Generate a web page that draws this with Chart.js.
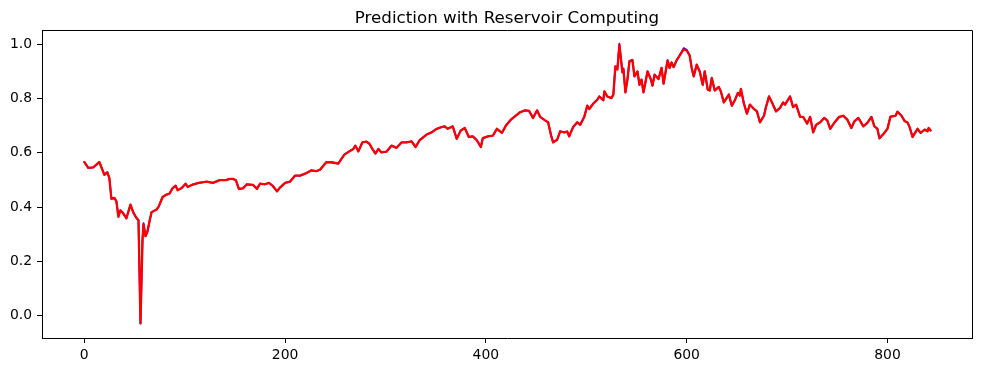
<!DOCTYPE html>
<html>
<head>
<meta charset="utf-8">
<script src="https://cdn.jsdelivr.net/npm/chart.js@4.4.1/dist/chart.umd.min.js"></script>
<style>
html,body{margin:0;padding:0;background:#fff;}
#wrap{width:981px;height:372px;}
</style>
</head>
<body>
<div id="wrap"><canvas id="c" width="981" height="372"></canvas></div>
<script>
const titleText = "Prediction with Reservoir Computing";
const xTicks = [0, 200, 400, 600, 800];
const yTicks = [0.0, 0.2, 0.4, 0.6, 0.8, 1.0];

const steps = [0,4,9,15,20,23,25,27,30,32,34,36,38,42,46,49,52,54,56,58,59,61,63,65,67,72,74,78,82,85,88,91,93,97,101,103,108,114,122,128,135,141,145,148,151,154,158,162,168,172,175,180,184,188,192,195,200,205,210,215,220,226,231,235,241,246,253,259,264,268,270,273,277,281,284,287,290,293,296,301,306,311,316,321,326,330,334,341,346,351,355,359,362,367,371,375,379,383,387,391,395,397,402,407,411,416,420,425,429,434,439,443,447,451,454,459,462,465,467,471,474,478,481,483,487,491,494,498,501,503,507,511,513,517,518,521,525,527,529,531,533,536,537,539,541,543,546,548,551,553,555,557,561,564,566,568,572,575,577,581,583,585,587,590,593,597,600,603,605,607,610,613,616,618,621,623,625,628,632,634,637,642,645,648,651,653,654,657,660,663,667,670,673,677,679,682,685,689,693,696,698,703,706,709,713,716,720,723,726,729,733,737,740,743,747,752,756,760,764,767,771,776,780,784,787,790,792,796,800,803,808,810,814,817,820,822,825,830,833,837,840,841,843];

const predicted = [0.566,0.544,0.546,0.566,0.519,0.528,0.507,0.430,0.434,0.421,0.364,0.388,0.381,0.359,0.409,0.379,0.360,0.352,-0.028,0.280,0.336,0.293,0.311,0.348,0.381,0.391,0.401,0.437,0.446,0.450,0.470,0.479,0.462,0.470,0.486,0.474,0.483,0.489,0.494,0.489,0.499,0.499,0.504,0.504,0.499,0.467,0.469,0.484,0.482,0.467,0.486,0.484,0.489,0.477,0.458,0.472,0.489,0.494,0.516,0.516,0.523,0.535,0.532,0.538,0.565,0.565,0.560,0.593,0.605,0.614,0.626,0.605,0.638,0.641,0.633,0.614,0.597,0.614,0.601,0.604,0.626,0.618,0.638,0.638,0.642,0.621,0.646,0.667,0.675,0.688,0.693,0.697,0.688,0.697,0.651,0.682,0.691,0.658,0.660,0.646,0.621,0.654,0.660,0.663,0.688,0.673,0.700,0.722,0.734,0.749,0.756,0.754,0.728,0.756,0.732,0.719,0.712,0.663,0.638,0.648,0.679,0.675,0.678,0.660,0.695,0.712,0.703,0.732,0.773,0.761,0.781,0.795,0.807,0.793,0.826,0.807,0.801,0.814,0.918,0.906,0.997,0.896,0.908,0.822,0.869,0.936,0.940,0.881,0.899,0.850,0.869,0.822,0.899,0.873,0.847,0.887,0.871,0.912,0.854,0.940,0.912,0.932,0.915,0.940,0.957,0.980,0.976,0.957,0.912,0.881,0.924,0.899,0.850,0.899,0.832,0.829,0.875,0.829,0.842,0.826,0.785,0.814,0.773,0.793,0.820,0.810,0.835,0.781,0.744,0.777,0.761,0.752,0.712,0.736,0.768,0.807,0.785,0.752,0.765,0.785,0.777,0.807,0.768,0.777,0.732,0.732,0.707,0.732,0.675,0.703,0.712,0.728,0.719,0.688,0.710,0.732,0.736,0.722,0.691,0.715,0.728,0.697,0.710,0.732,0.697,0.688,0.653,0.669,0.688,0.733,0.736,0.751,0.736,0.717,0.711,0.695,0.658,0.688,0.673,0.685,0.679,0.691,0.682];

const actual = [0.566,0.544,0.546,0.566,0.519,0.528,0.507,0.433,0.434,0.421,0.368,0.388,0.381,0.359,0.409,0.379,0.360,0.352,-0.028,0.280,0.341,0.293,0.311,0.348,0.381,0.391,0.401,0.437,0.446,0.450,0.470,0.479,0.462,0.470,0.486,0.474,0.483,0.489,0.494,0.489,0.499,0.499,0.504,0.504,0.499,0.467,0.469,0.484,0.482,0.467,0.486,0.484,0.489,0.477,0.458,0.472,0.489,0.494,0.516,0.516,0.523,0.535,0.532,0.538,0.565,0.565,0.560,0.593,0.605,0.614,0.626,0.605,0.638,0.641,0.633,0.614,0.597,0.614,0.601,0.604,0.626,0.618,0.638,0.638,0.642,0.621,0.646,0.667,0.675,0.688,0.693,0.697,0.688,0.697,0.651,0.682,0.691,0.658,0.660,0.646,0.621,0.654,0.660,0.663,0.688,0.673,0.700,0.722,0.734,0.749,0.756,0.754,0.728,0.756,0.732,0.719,0.712,0.663,0.638,0.648,0.679,0.675,0.678,0.660,0.695,0.712,0.703,0.732,0.773,0.761,0.781,0.795,0.807,0.793,0.826,0.807,0.801,0.814,0.918,0.910,1.001,0.896,0.910,0.822,0.869,0.938,0.942,0.881,0.899,0.850,0.869,0.822,0.899,0.873,0.847,0.887,0.871,0.912,0.854,0.940,0.912,0.932,0.915,0.940,0.958,0.985,0.979,0.959,0.912,0.881,0.924,0.899,0.850,0.899,0.832,0.829,0.875,0.829,0.842,0.826,0.785,0.814,0.773,0.793,0.820,0.810,0.835,0.781,0.744,0.777,0.761,0.752,0.712,0.736,0.768,0.807,0.785,0.752,0.765,0.785,0.777,0.807,0.768,0.777,0.732,0.732,0.707,0.732,0.675,0.703,0.712,0.728,0.719,0.688,0.710,0.732,0.736,0.722,0.691,0.715,0.728,0.697,0.710,0.732,0.697,0.688,0.653,0.669,0.688,0.733,0.736,0.751,0.736,0.717,0.711,0.695,0.658,0.688,0.673,0.685,0.679,0.691,0.682];

const toPts = (xs, ys) => xs.map((x, i) => ({ x: x, y: ys[i] }));

const FONT = "'DejaVu Sans', 'Liberation Sans', sans-serif";

const framePlugin = {
  id: 'frame',
  afterDraw(chart) {
    const { ctx, chartArea: a } = chart;
    ctx.save();
    ctx.strokeStyle = '#000';
    ctx.lineWidth = 1;
    ctx.beginPath();
    ctx.moveTo(Math.round(a.left) + 0.5, Math.round(a.top) + 0.5);
    ctx.lineTo(Math.round(a.right) + 0.5, Math.round(a.top) + 0.5);
    ctx.lineTo(Math.round(a.right) + 0.5, Math.round(a.bottom) + 0.5);
    ctx.stroke();
    ctx.fillStyle = '#000';
    ctx.font = '16.7px ' + FONT;
    ctx.textAlign = 'center';
    ctx.textBaseline = 'alphabetic';
    ctx.fillText(titleText, (a.left + a.right) / 2, 23);
    ctx.restore();
  }
};

new Chart(document.getElementById('c'), {
  type: 'line',
  data: {
    datasets: [
      { label: 'Predicted', data: toPts(steps, predicted), borderColor: '#ff0000', borderWidth: 2.3, pointRadius: 0, tension: 0, fill: false, order: 0, borderJoinStyle: 'round', borderCapStyle: 'round' },
      { label: 'Actual', data: toPts(steps, actual), borderColor: '#0000ff', borderWidth: 1.8, pointRadius: 0, tension: 0, fill: false, order: 1, borderJoinStyle: 'round', borderCapStyle: 'round' }
    ]
  },
  options: {
    responsive: false,
    animation: false,
    layout: { padding: { top: 30, right: 9, left: 0, bottom: 0 } },
    plugins: { legend: { display: false }, title: { display: false }, tooltip: { enabled: false } },
    scales: {
      x: {
        type: 'linear',
        min: -42.1,
        max: 884.2,
        afterFit(s) { s.height = 34; },
        afterBuildTicks(s) { s.ticks = xTicks.map(v => ({ value: v })); },
        grid: { display: true, drawOnChartArea: false, drawTicks: true, tickLength: 5, color: '#000', tickColor: '#000', lineWidth: 1 },
        border: { display: true, color: '#000', width: 1 },
        ticks: { color: '#000', padding: 4, maxRotation: 0, font: { family: FONT, size: 13.9 }, callback: v => String(v) }
      },
      y: {
        type: 'linear',
        min: -0.0815,
        max: 1.0515,
        afterFit(s) { s.width = 42; },
        afterBuildTicks(s) { s.ticks = yTicks.map(v => ({ value: v })); },
        grid: { display: true, drawOnChartArea: false, drawTicks: true, tickLength: 5, color: '#000', tickColor: '#000', lineWidth: 1 },
        border: { display: true, color: '#000', width: 1 },
        ticks: { color: '#000', padding: 5, font: { family: FONT, size: 13.9 }, callback: v => Number(v).toFixed(1) }
      }
    }
  },
  plugins: [framePlugin]
});
</script>
</body>
</html>
